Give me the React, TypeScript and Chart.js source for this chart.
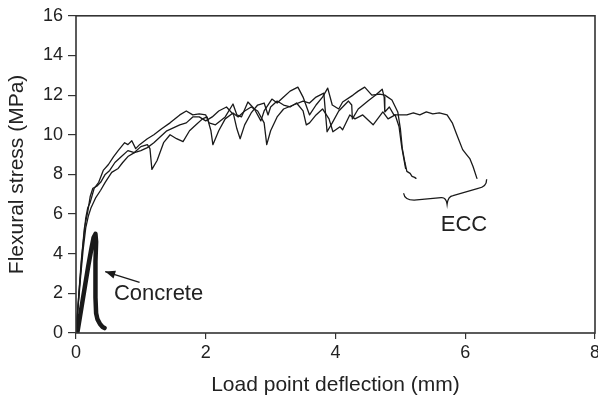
import React, { useEffect, useRef } from "react";
import { Chart, registerables } from "chart.js";

Chart.register(...registerables);

// ---- data (deflection mm, flexural stress MPa) ----
const xTicks = [0, 2, 4, 6, 8];
const yTicks = [0, 2, 4, 6, 8, 10, 12, 14, 16];

const ecc1: [number, number][] = [
  [0, 0], [0.05, 2.2], [0.1, 4.2], [0.15, 5.8], [0.18, 6.3], [0.22, 6.6], [0.28, 7.3], [0.35, 7.6],
  [0.42, 8.2], [0.5, 8.5], [0.58, 8.9], [0.65, 9.2], [0.75, 9.6], [0.8, 9.5], [0.86, 9.7], [0.92, 9.3],
  [0.98, 9.5], [1.1, 9.8], [1.2, 10.0], [1.32, 10.3], [1.45, 10.6], [1.6, 11.0], [1.7, 11.2], [1.8, 11.0],
  [1.9, 11.05], [2.0, 11.0], [2.05, 10.6], [2.15, 10.5], [2.3, 10.9], [2.42, 11.55], [2.48, 11.0],
  [2.55, 10.9], [2.65, 11.65], [2.75, 11.3], [2.85, 10.7], [2.9, 11.2], [3.02, 11.8], [3.1, 11.6],
  [3.2, 11.9], [3.3, 12.2], [3.42, 12.4], [3.5, 11.9], [3.6, 11.0], [3.7, 11.5], [3.8, 11.9],
  [3.88, 12.35], [3.95, 11.5], [4.05, 11.3], [4.11, 11.65], [4.27, 12.0], [4.35, 12.2], [4.45, 12.4],
  [4.56, 12.0], [4.68, 12.05], [4.76, 12.0], [4.87, 11.75], [4.96, 11.15], [5.0, 10.3], [5.03, 9.3],
  [5.07, 8.6], [5.1, 8.15], [5.15, 8.05], [5.18, 7.9], [5.22, 7.85], [5.24, 7.8],
];

const ecc2: [number, number][] = [
  [0, 0], [0.04, 1.8], [0.08, 3.6], [0.13, 5.3], [0.18, 6.1], [0.22, 6.9], [0.26, 7.3], [0.32, 7.4],
  [0.38, 7.6], [0.45, 8.0], [0.52, 8.2], [0.6, 8.6], [0.7, 8.9], [0.8, 9.2], [0.9, 9.1], [1.0, 9.4],
  [1.1, 9.5], [1.14, 9.3], [1.17, 8.25], [1.25, 8.7], [1.35, 9.6], [1.45, 10.0], [1.55, 9.8],
  [1.65, 9.65], [1.75, 10.2], [1.85, 10.5], [1.95, 10.8], [2.02, 10.9], [2.08, 10.2], [2.11, 9.5],
  [2.2, 10.2], [2.3, 10.8], [2.42, 11.1], [2.5, 10.9], [2.6, 11.2], [2.7, 11.4], [2.8, 11.2],
  [2.9, 10.6], [2.94, 9.5], [3.0, 10.2], [3.1, 10.9], [3.2, 11.3], [3.35, 11.5], [3.5, 11.7],
  [3.6, 11.6], [3.7, 11.9], [3.82, 12.1], [3.87, 10.15], [3.95, 10.6], [4.05, 11.2], [4.2, 11.7],
  [4.25, 11.5], [4.26, 10.8], [4.35, 11.3], [4.5, 11.7], [4.62, 12.0], [4.72, 12.3], [4.75, 11.9],
  [4.76, 11.15], [4.83, 11.4], [4.9, 11.0], [4.97, 11.0], [5.1, 11.0], [5.2, 11.1], [5.3, 11.0],
  [5.4, 11.15], [5.5, 11.05], [5.6, 11.1], [5.72, 11.0], [5.8, 10.6], [5.87, 10.0], [5.96, 9.25],
  [6.02, 9.0], [6.07, 8.8], [6.12, 8.4], [6.18, 7.8],
];

const ecc3: [number, number][] = [
  [0, 0], [0.03, 1.2], [0.07, 2.8], [0.11, 4.2], [0.15, 5.3], [0.19, 5.9], [0.23, 6.3], [0.3, 6.8],
  [0.38, 7.2], [0.45, 7.6], [0.55, 8.1], [0.65, 8.3], [0.72, 8.6], [0.8, 8.9], [0.9, 9.1], [1.0, 9.2],
  [1.1, 9.35], [1.2, 9.6], [1.3, 9.9], [1.4, 10.2], [1.5, 10.35], [1.6, 10.5], [1.7, 10.6],
  [1.8, 10.9], [1.9, 10.9], [2.0, 10.7], [2.1, 10.9], [2.2, 11.2], [2.32, 11.4], [2.43, 11.0],
  [2.48, 10.3], [2.53, 9.8], [2.6, 10.5], [2.7, 11.1], [2.8, 11.5], [2.9, 11.6], [2.96, 11.0],
  [3.0, 11.4], [3.1, 11.7], [3.2, 11.5], [3.3, 11.4], [3.4, 11.6], [3.5, 11.2], [3.55, 10.5],
  [3.6, 10.6], [3.7, 11.0], [3.8, 11.3], [3.9, 10.8], [3.96, 10.15], [4.07, 10.4], [4.11, 10.25],
  [4.22, 11.0], [4.3, 10.8], [4.42, 11.0], [4.58, 10.5], [4.73, 11.15], [4.81, 10.8], [4.92, 11.0],
  [4.98, 10.4], [5.02, 9.4], [5.08, 8.3],
];

const concrete: [number, number][] = [
  [0.02, 0], [0.08, 1.2], [0.14, 2.4], [0.19, 3.4], [0.24, 4.3], [0.27, 4.8], [0.3, 5.0],
  [0.31, 4.6], [0.3, 3.6], [0.3, 2.6], [0.3, 1.8], [0.31, 1.0], [0.33, 0.7], [0.37, 0.45],
  [0.41, 0.3], [0.44, 0.25],
];

// annotations (data units)
const concreteLabel = { text: "Concrete", x: 0.585, y: 1.95 };
const concreteArrow = { from: [0.98, 2.55], to: [0.45, 3.1] };
const eccLabel = { text: "ECC", x: 5.98, y: 5.45 };
const eccBrace = {
  left: [5.05, 7.05], leftCorner: [5.15, 6.7], tip: [5.72, 6.5], rightCorner: [6.26, 7.3], right: [6.33, 7.75],
};

const INK = "#1a1a1a";
const TEXT = "#222";
const FONT = "'Liberation Sans', Arial, sans-serif";

const toXY = (arr: [number, number][]) => arr.map(([x, y]) => ({ x, y }));

const framePlugin = {
  id: "frameAndNotes",
  afterDatasetsDraw(chart: any) {
    const { ctx, chartArea: a, scales } = chart;
    const px = (v: number) => scales.x.getPixelForValue(v);
    const py = (v: number) => scales.y.getPixelForValue(v);
    ctx.save();
    ctx.strokeStyle = "#333";
    ctx.lineWidth = 1.6;
    ctx.strokeRect(a.left, a.top, a.right - a.left, a.bottom - a.top);

    // Concrete label + arrow
    ctx.fillStyle = TEXT;
    ctx.font = `22px ${FONT}`;
    ctx.textBaseline = "middle";
    ctx.textAlign = "left";
    ctx.fillText(concreteLabel.text, px(concreteLabel.x), py(concreteLabel.y));
    const fx = px(concreteArrow.from[0]), fy = py(concreteArrow.from[1]);
    const tx = px(concreteArrow.to[0]), ty = py(concreteArrow.to[1]);
    ctx.strokeStyle = INK;
    ctx.lineWidth = 1.4;
    ctx.beginPath();
    ctx.moveTo(fx, fy);
    ctx.lineTo(tx, ty);
    ctx.stroke();
    const ang = Math.atan2(ty - fy, tx - fx);
    const hl = 10, hw = 4;
    ctx.fillStyle = INK;
    ctx.beginPath();
    ctx.moveTo(tx, ty);
    ctx.lineTo(tx - hl * Math.cos(ang) + hw * Math.sin(ang), ty - hl * Math.sin(ang) - hw * Math.cos(ang));
    ctx.lineTo(tx - hl * Math.cos(ang) - hw * Math.sin(ang), ty - hl * Math.sin(ang) + hw * Math.cos(ang));
    ctx.closePath();
    ctx.fill();

    // ECC brace
    const b = eccBrace;
    const P = (p: number[]) => [px(p[0]), py(p[1])];
    const [lx, ly] = P(b.left), [lcx, lcy] = P(b.leftCorner), [tpx, tpy] = P(b.tip);
    const [rcx, rcy] = P(b.rightCorner), [rx, ry] = P(b.right);
    const mx = tpx, my = tpy - 7;
    ctx.lineWidth = 1.3;
    ctx.beginPath();
    ctx.moveTo(lx, ly);
    ctx.quadraticCurveTo(lx + 1, lcy, lcx + 4, lcy);
    ctx.lineTo(mx - 6, my + 0.5);
    ctx.quadraticCurveTo(mx - 1, my, tpx, tpy);
    ctx.quadraticCurveTo(mx + 1, my - 1, mx + 6, my - 1.5);
    ctx.lineTo(rcx - 4, rcy);
    ctx.quadraticCurveTo(rx, rcy - 1, rx, ry);
    ctx.stroke();

    ctx.fillStyle = TEXT;
    ctx.textAlign = "center";
    ctx.fillText(eccLabel.text, px(eccLabel.x), py(eccLabel.y));
    ctx.restore();
  },
};

export default function App() {
  const ref = useRef<HTMLCanvasElement | null>(null);
  useEffect(() => {
    if (!ref.current) return;
    const line = (data: [number, number][], w: number) => ({
      data: toXY(data),
      borderColor: INK,
      backgroundColor: INK,
      borderWidth: w,
      pointRadius: 0,
      tension: 0,
      fill: false,
      borderJoinStyle: "round" as const,
      borderCapStyle: "round" as const,
    });
    const chart = new Chart(ref.current, {
      type: "line",
      data: {
        datasets: [line(ecc1, 1.3), line(ecc2, 1.3), line(ecc3, 1.3), line(concrete, 4.5)],
      },
      options: {
        animation: false,
        responsive: true,
        maintainAspectRatio: false,
        layout: { padding: { top: 13, right: 3, left: 0, bottom: 0 } },
        plugins: { legend: { display: false }, tooltip: { enabled: false } },
        scales: {
          x: {
            type: "linear",
            min: 0,
            max: 8,
            afterBuildTicks: (s: any) => { s.ticks = xTicks.map((v) => ({ value: v })); },
            afterFit: (s: any) => { s.height = 68; s.paddingRight = 0; s.paddingLeft = 0; },
            grid: { drawOnChartArea: false, tickLength: 6, color: "#333", lineWidth: 1.2 },
            border: { display: false },
            ticks: { color: TEXT, font: { family: FONT, size: 18 }, padding: 3, maxRotation: 0 },
            title: {
              display: true,
              text: "Load point deflection (mm)",
              color: TEXT,
              font: { family: FONT, size: 21 },
              padding: { top: 0, bottom: 3 },
            },
          },
          y: {
            type: "linear",
            min: 0,
            max: 16,
            afterBuildTicks: (s: any) => { s.ticks = yTicks.map((v) => ({ value: v })); },
            afterFit: (s: any) => { s.width = 76; },
            grid: { drawOnChartArea: false, tickLength: 8, color: "#333", lineWidth: 1.2 },
            border: { display: false },
            ticks: { color: TEXT, font: { family: FONT, size: 18 }, padding: 5 },
            title: {
              display: true,
              text: "Flexural stress (MPa)",
              color: TEXT,
              font: { family: FONT, size: 21 },
              padding: { top: 5, bottom: 0 },
            },
          },
        },
      },
      plugins: [framePlugin],
    } as any);
    return () => chart.destroy();
  }, []);
  return (
    <div style={{ position: "absolute", left: 0, top: 0, width: 598, height: 401 }}>
      <canvas ref={ref} />
    </div>
  );
}
